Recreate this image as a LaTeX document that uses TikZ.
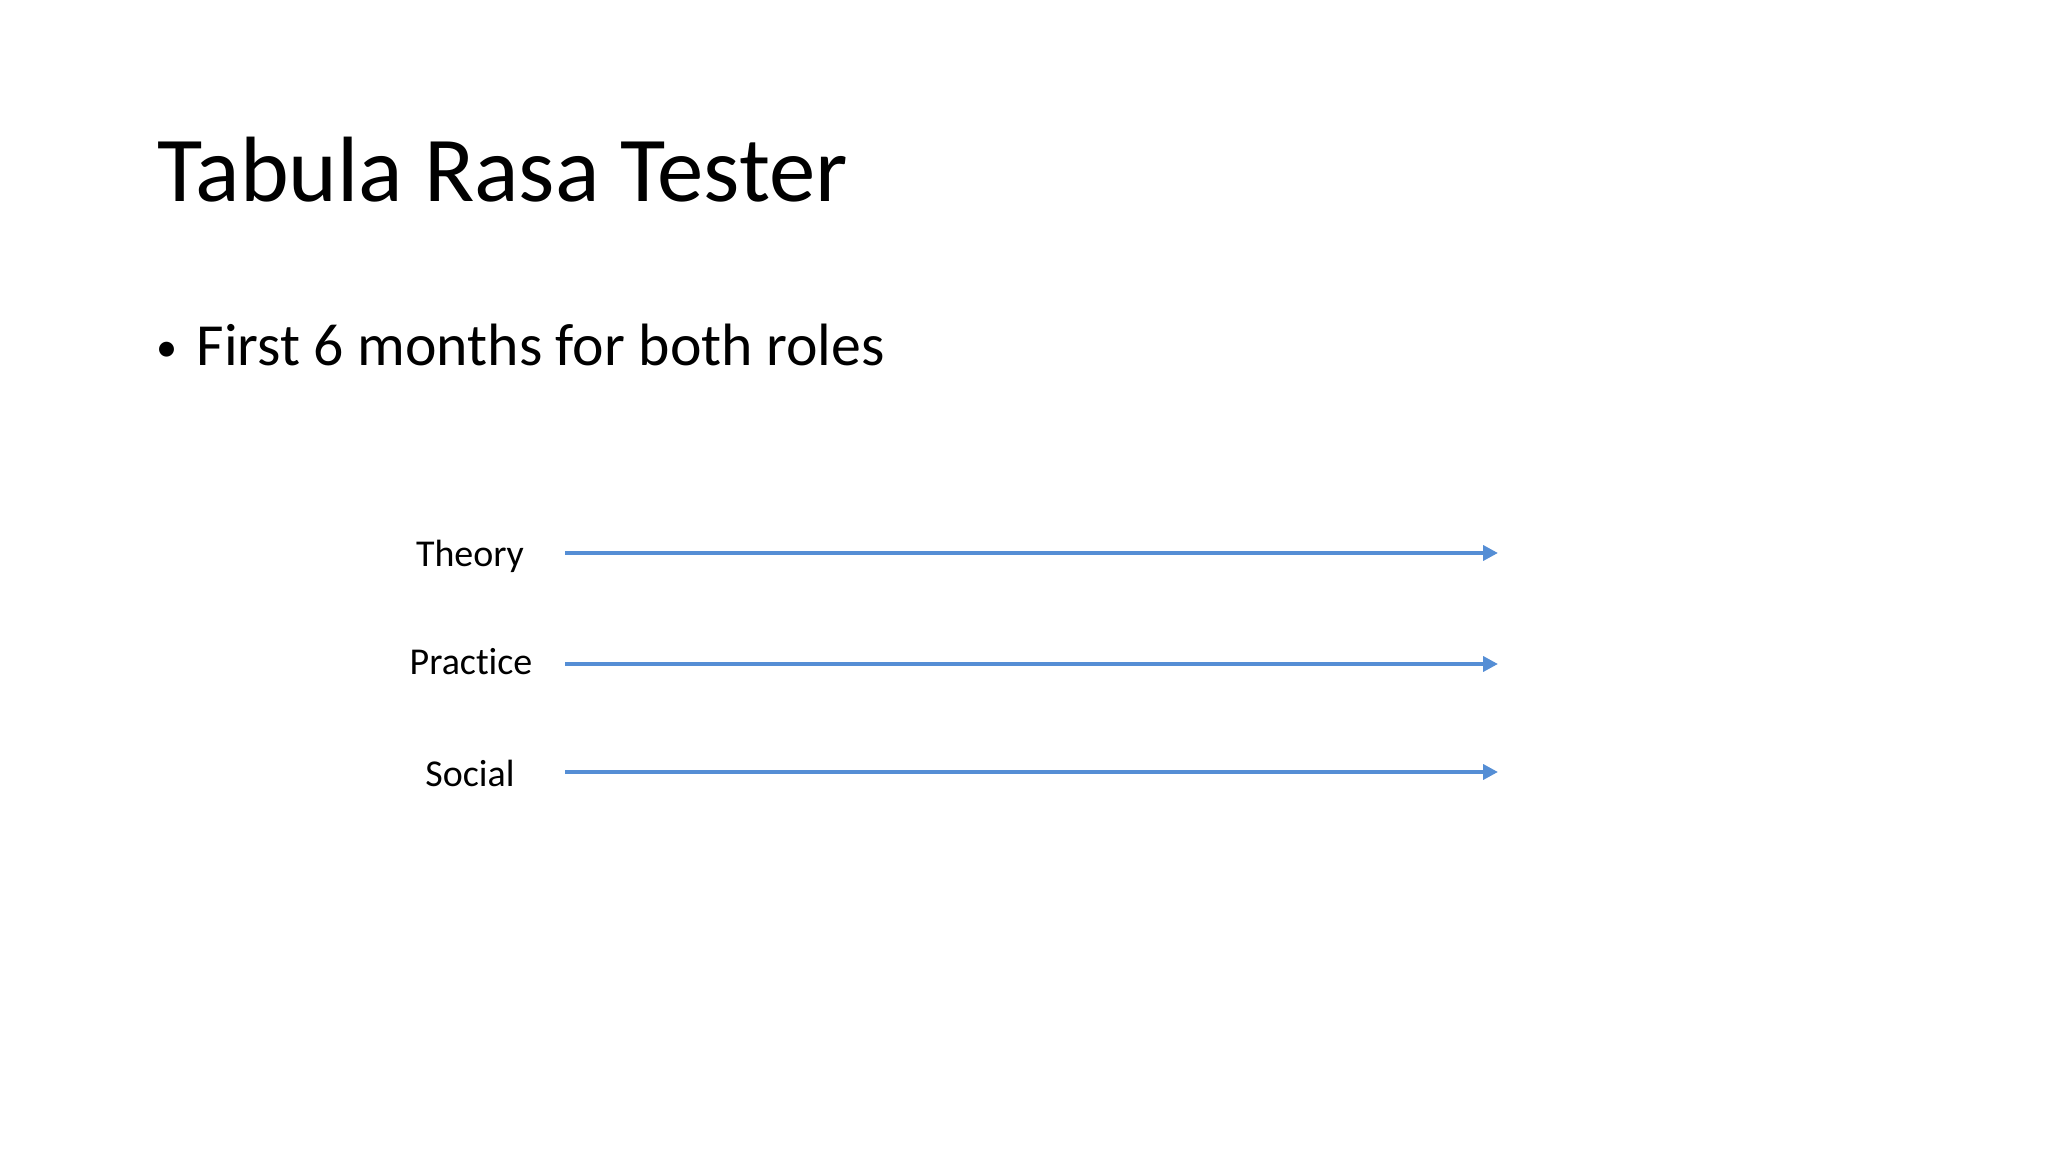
\documentclass[tikz,border=0pt]{standalone}
\usepackage{fontspec}
\setmainfont{Carlito}[Ligatures=NoCommon]
\usepackage{xcolor}
\usetikzlibrary{arrows.meta}
\definecolor{officeblue}{HTML}{558ED5}
\tikzset{
  title text/.style={anchor=base west, inner sep=0pt, font=\fontsize{26.4}{31}\selectfont},
  bullet text/.style={anchor=base west, inner sep=0pt, font=\fontsize{17}{20}\selectfont},
  row label/.style={anchor=base, inner sep=0pt, font=\fontsize{10.8}{13}\selectfont},
  timeline/.style={draw=officeblue, line width=1.1pt, -{Triangle[length=4.2pt, width=4.2pt]}},
}

\begin{document}
\begin{tikzpicture}
                \useasboundingbox (0,0) rectangle (20.48,-11.52);
                \node[title text] (title) at (1.57,-2.02) {Tabula Rasa Tester};
                \node[bullet text] (dot) at (1.56,-3.62) {\fontsize{12}{12}\selectfont\textbullet};
                \node[bullet text] (point) at (1.96,-3.66) {First 6 months for both roles};
                \node[row label] (theory) at (4.70,-5.67) {Theory};
                \node[row label] (practice) at (4.71,-6.75) {Practice};
                \node[row label] (social) at (4.70,-7.87) {Social};
                \coordinate (theory a) at (5.65,-5.53);
                \coordinate (theory b) at (14.98,-5.53);
                \coordinate (practice a) at (5.65,-6.64);
                \coordinate (practice b) at (14.98,-6.64);
                \coordinate (social a) at (5.65,-7.72);
                \coordinate (social b) at (14.98,-7.72);
                \draw[timeline] (theory a) -- (theory b);
                \draw[timeline] (practice a) -- (practice b);
                \draw[timeline] (social a) -- (social b);
            \end{tikzpicture}
\end{document}
